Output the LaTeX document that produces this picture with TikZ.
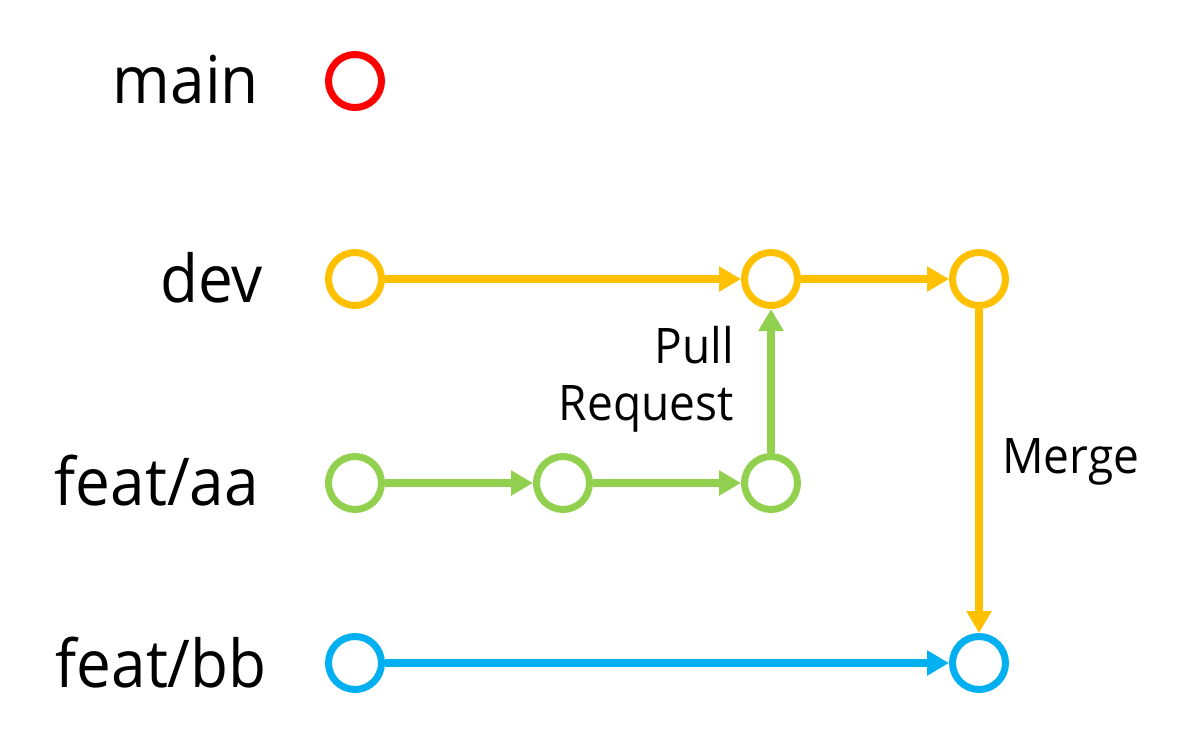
\documentclass[tikz,border=0pt]{standalone}
\usepackage{fontspec}
\setmainfont[FakeStretch=0.94]{Open Sans}
\usetikzlibrary{arrows.meta}
\definecolor{cred}{HTML}{FF0000}
\definecolor{corange}{HTML}{FFC000}
\definecolor{cgreen}{HTML}{92D050}
\definecolor{cblue}{HTML}{00B0F0}
\begin{document}
\begin{tikzpicture}[x=1pt,y=-1pt,
  commit/.style={circle,draw=#1,line width=7pt,minimum size=53pt,inner sep=0pt,fill=white},
  link/.style={draw=#1,line width=7.5pt,-{Triangle[length=22pt,width=24pt]}},
  branchlabel/.style={font=\fontsize{66}{70}\selectfont,inner sep=0pt,anchor=base east},
  note/.style={font=\fontsize{49}{57}\selectfont,inner sep=0pt}
]
\useasboundingbox (0,0) rectangle (1189,753);
% labels
\node[branchlabel] (lmain) at (259,103) {main};
\node[branchlabel] (ldev) at (263,302) {dev};
\node[branchlabel] (laa) at (259,505) {feat/aa};
\node[branchlabel] (lbb) at (267,687) {feat/bb};
% commits
\node[commit=cred] (m1) at (355,81) {};
\node[commit=corange] (d1) at (355,279) {};
\node[commit=corange] (d2) at (771,279) {};
\node[commit=corange] (d3) at (979,279) {};
\node[commit=cgreen] (a1) at (355,483) {};
\node[commit=cgreen] (a2) at (563,483) {};
\node[commit=cgreen] (a3) at (771,483) {};
\node[commit=cblue] (b1) at (355,663) {};
\node[commit=cblue] (b2) at (979,663) {};
% connectors
\draw[link=corange] (d1) -- (d2);
\draw[link=corange] (d2) -- (d3);
\draw[link=corange] (d3) -- (b2);
\draw[link=cgreen] (a1) -- (a2);
\draw[link=cgreen] (a2) -- (a3);
\draw[link=cgreen] (a3) -- (d2);
\draw[link=cblue] (b1) -- (b2);
% notes
\node[note,align=right,anchor=base east] (pr) at (734,420) {Pull\\Request};
\node[note,anchor=base west] (mg) at (1002,473) {Merge};
\end{tikzpicture}
\end{document}
